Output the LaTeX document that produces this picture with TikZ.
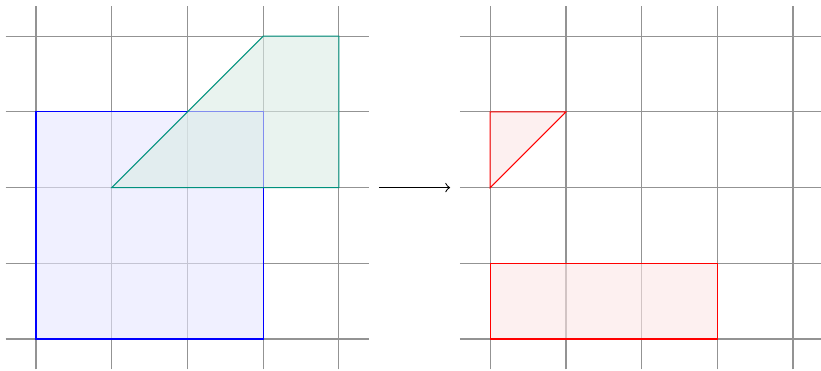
\documentclass[tikz,border=0pt]{standalone}
\definecolor{tealc}{RGB}{0,145,125}
\definecolor{tealf}{RGB}{218,235,229}
\definecolor{bluef}{RGB}{230,230,255}
\definecolor{redf}{RGB}{252,230,230}
\tikzset{
  gridline/.style={gray!85, line width=0.45pt},
  shapeA/.style={draw=blue, fill=bluef, fill opacity=0.6, draw opacity=1},
  shapeB/.style={draw=tealc, fill=tealf, fill opacity=0.6, draw opacity=1},
  shapeC/.style={draw=red, fill=redf, fill opacity=0.6, draw opacity=1},
}
\begin{document}
\begin{tikzpicture}[x=1cm,y=1cm]
\useasboundingbox (-0.4756,-0.41) rectangle (10.37,4.478);
% left grid
\foreach \i in {0,...,4} {
  \draw[gridline] (\i,-0.4) -- (\i,4.4);
  \draw[gridline] (-0.4,\i) -- (4.4,\i);
}
% right grid
\foreach \i in {0,...,4} {
  \draw[gridline] (6+\i,-0.4) -- (6+\i,4.4);
  \draw[gridline] (5.6,\i) -- (10.4,\i);
}
% left shapes
\draw[shapeA] (0,0) rectangle (3,3);
\draw[shapeB] (1,2) -- (3,4) -- (4,4) -- (4,2) -- cycle;
% arrow
\coordinate (s) at (4.53,2);
\coordinate (t) at (5.47,2);
\draw[->] (s) -- (t);
% right shapes
\draw[shapeC] (6,2) -- (6,3) -- (7,3) -- cycle;
\draw[shapeC] (6,0) rectangle (9,1);
\end{tikzpicture}
\end{document}
